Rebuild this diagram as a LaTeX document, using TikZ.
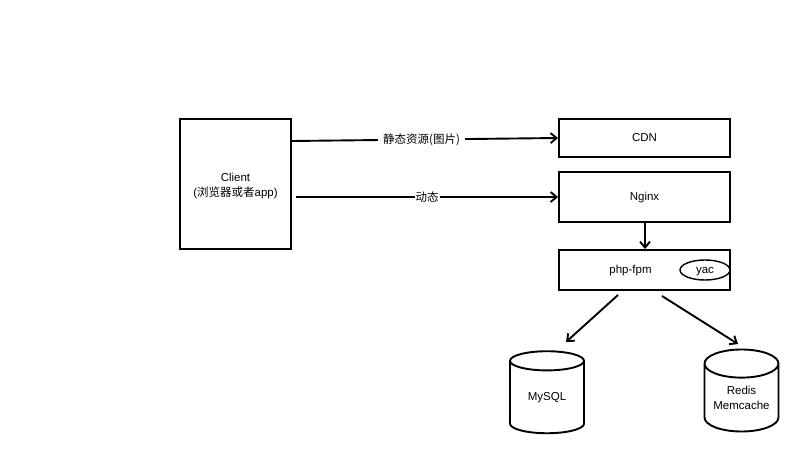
\documentclass[tikz,border=0pt]{standalone}
\usepackage{fontspec}
\setmainfont{Liberation Sans}
\newfontfamily\cjk{Noto Sans CJK SC}
\usetikzlibrary{arrows.meta,positioning,shapes.geometric}

\tikzset{
  srvbox/.style={draw, line width=1.9pt, minimum width=171pt, inner sep=0pt,
    text height=9pt, text depth=2pt},
  dbcyl/.style={draw, line width=1.9pt, cylinder, shape border rotate=90, aspect=0.5,
    minimum width=74pt, minimum height=82pt, inner sep=0pt, align=center},
  flow/.style={-{Straight Barb[length=6pt,width=10pt]}, line width=1.9pt},
}

\begin{document}
\begin{tikzpicture}[x=1pt, y=-1pt, font=\fontsize{11.5}{15}\selectfont]
  \useasboundingbox (0,0) rectangle (800,455);

  \node[srvbox, minimum width=111pt, minimum height=130pt, align=center,
    text height=27pt] (client) at (235.5,184) {Client\\({\cjk 浏览器或者}app)};
  \node[srvbox, minimum height=38pt] (cdn) at (644.5,138) {CDN};
  \node[srvbox, minimum height=50pt] (nginx) at (644.5,197) {Nginx};
  \node[srvbox, minimum height=40pt] (fpm) at (644.5,270) {\hspace*{-28pt}php-fpm};
  \node[draw, line width=1.4pt, ellipse, minimum width=50pt, minimum height=20pt,
    inner sep=0pt, text height=9pt, text depth=2pt] (yac) at (705,270) {yac};

  \node[dbcyl] (mysql) at (547,397.5) {MySQL};
  \node[dbcyl] (redis) at (741.5,398) {Redis\\Memcache};

  \draw[flow] ([yshift=43pt]client.east) -- (cdn.west)
    node[pos=0.487, fill=white, inner xsep=5pt] {\cjk 静态资源(图片)};
  \draw[flow] ([xshift=4pt,yshift=-13pt]client.east) -- (nginx.west)
    node[midway, fill=white, inner sep=1pt] {\cjk 动态};
  \draw[flow] ([xshift=0.5pt]nginx.south) -- ([xshift=0.5pt]fpm.north);

  \coordinate (fpmL) at (618,295);
  \coordinate (fpmR) at (662,296);
  \coordinate (mysqlT) at (566,342);
  \coordinate (redisT) at (738,344);
  \draw[flow] (fpmL) -- (mysqlT);
  \draw[flow] (fpmR) -- (redisT);
\end{tikzpicture}
\end{document}
